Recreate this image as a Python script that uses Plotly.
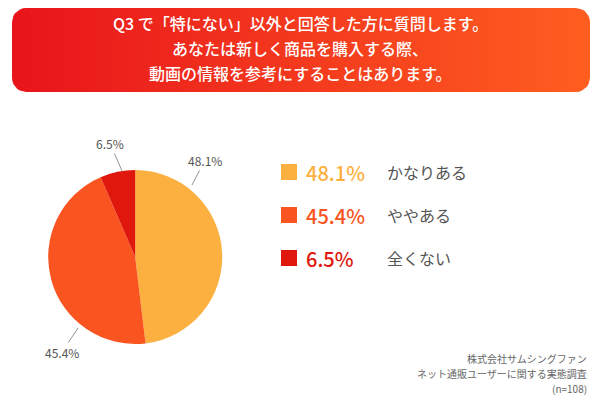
import numpy as np
import plotly.graph_objects as go

labels = ["かなりある", "ややある", "全くない"]
values = [48.1, 45.4, 6.5]
colors = ["#FBB040", "#FA5420", "#E0170C"]
title_lines = ["Q3 で「特にない」以外と回答した方に質問します。",
               "あなたは新しく商品を購入する際、",
               "動画の情報を参考にすることはあります。"]
source_lines = ["株式会社サムシングファン", "ネット通販ユーザーに関する実態調査", "(n=108)"]

FONT = "Noto Sans CJK JP"
OFF = 8  # page body margin

# rounded header box
x0, x1, y0, y1, r = 12, 590, 8, 92, 14
px, py = [], []
for cx, cy, a0 in [(x1 - r, y0 + r, -90), (x1 - r, y1 - r, 0), (x0 + r, y1 - r, 90), (x0 + r, y0 + r, 180)]:
    t = np.radians(np.linspace(a0, a0 + 90, 8))
    px += list(cx + r * np.cos(t))
    py += list(cy + r * np.sin(t))
px.append(px[0]); py.append(py[0])

fig = go.Figure()
fig.add_trace(go.Scatter(x=px, y=py, fill="toself", mode="lines", line=dict(width=0),
                         fillgradient=dict(type="horizontal",
                                           colorscale=[[0, "#E8141B"], [1, "#FF5E20"]]),
                         hoverinfo="skip", showlegend=False))

fig.add_trace(go.Pie(values=values, labels=labels, sort=False, direction="clockwise",
                     rotation=0, marker=dict(colors=colors, line=dict(width=0)),
                     textinfo="none", hoverinfo="label+percent",
                     domain=dict(x=[0.067, 0.357], y=[0.16, 0.595]), showlegend=False))

# outside labels with leader lines: (label pos, line tip)
label_pos = [((205, 160), (192, 185)), ((62, 352), (78, 328)), ((110, 143), (122, 171))]
for v, ((lx, ly), (tx, ty)) in zip(values, label_pos):
    fig.add_annotation(x=tx, y=ty, ax=lx, ay=ly, xref="x", yref="y", axref="x", ayref="y",
                       text="", showarrow=True, arrowhead=0, arrowwidth=0.8, arrowcolor="#777")
    fig.add_annotation(x=lx, y=ly, xref="x", yref="y", text=f"{v}%", showarrow=False,
                       bgcolor="white", font=dict(size=12, color="#555", family=FONT))

for i, line in enumerate(title_lines):
    fig.add_annotation(x=300, y=23 + i * 25, xref="x", yref="y", text=line, showarrow=False,
                       font=dict(size=16, color="white", family=FONT, weight=500))

for i, (lab, v, c) in enumerate(zip(labels, values, colors)):
    yy = 172 + i * 43
    fig.add_shape(type="rect", x0=281, x1=297, y0=yy - 8, y1=yy + 8, xref="x", yref="y",
                  fillcolor=c, line=dict(width=0))
    fig.add_annotation(x=304, y=yy, xref="x", yref="y", text=f"{v}%", showarrow=False,
                       xanchor="left", font=dict(size=20, color=c, family=FONT, weight=500))
    fig.add_annotation(x=385, y=yy, xref="x", yref="y", text=lab, showarrow=False,
                       xanchor="left", font=dict(size=16, color="#555", family=FONT))

for i, line in enumerate(source_lines):
    fig.add_annotation(x=589, y=358 + i * 15, xref="x", yref="y", text=line, showarrow=False,
                       xanchor="right", font=dict(size=10, color="#666", family=FONT))

fig.update_layout(width=600, height=400, margin=dict(l=0, r=0, t=0, b=0, autoexpand=False),
                  paper_bgcolor="white", plot_bgcolor="white",
                  xaxis=dict(range=[OFF, 600 + OFF], visible=False, fixedrange=True, domain=[0, 1]),
                  yaxis=dict(range=[400 + OFF, OFF], visible=False, fixedrange=True, domain=[0, 1]))
fig.write_html("out.html")
